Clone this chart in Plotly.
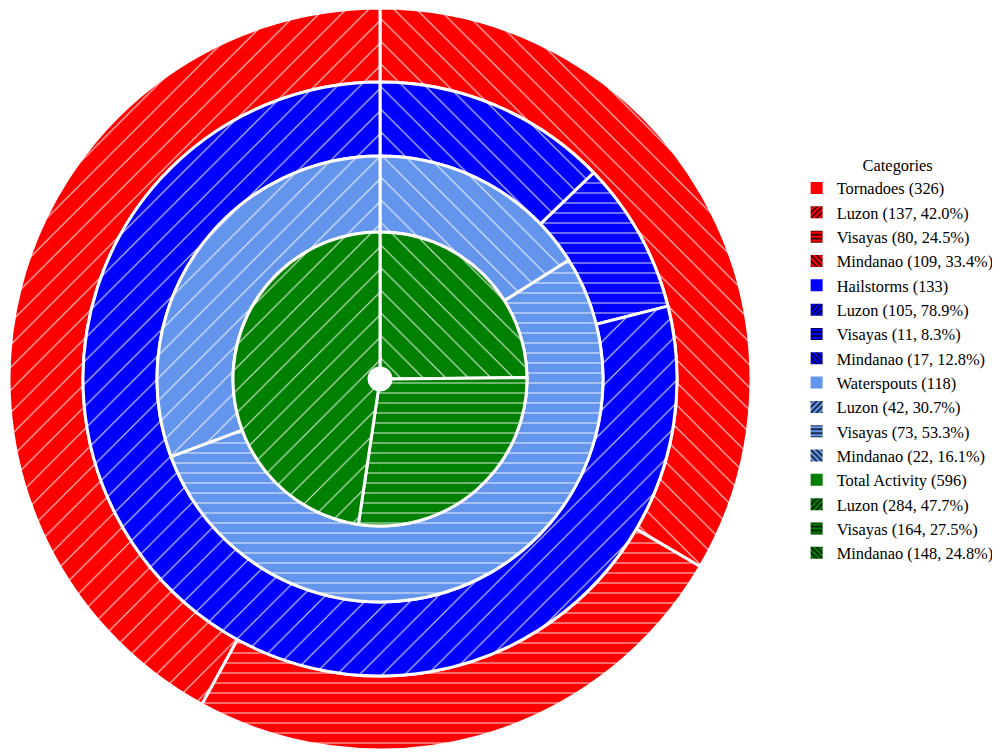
import plotly.graph_objects as go

categories = ["Tornadoes", "Hailstorms", "Waterspouts", "Total Activity"]
category_totals = [326, 133, 118, 596]
regions = ["Luzon", "Visayas", "Mindanao"]
tornadoes = [137, 80, 109]
hailstorms = [105, 11, 17]
waterspouts = [42, 73, 22]
total_activity = [284, 164, 148]
colors = ["#FF0000", "#0000FF", "#6495ED", "#008000"]
region_patterns = ["/", "-", "\\"]
pattern_sizes = [16, 10, 16]
pattern_solidity = [0.07, 0.1, 0.07]

series = [tornadoes, hailstorms, waterspouts, total_activity]

# figure sits 8px inside the page (default body margin)
W, H = 992, 745
cx, cy = 372, 371  # pixel centre in figure coords (from top)
radii = [371, 297, 223, 147]
holes = [297 / 371, 223 / 297, 147 / 223, 11 / 147]

fig = go.Figure()

for i, (cat, vals, col) in enumerate(zip(categories, series, colors)):
    R = radii[i]
    yb = H - cy
    # slices run counter-clockwise from 12 o'clock: Luzon, Visayas, Mindanao
    # (drawn clockwise in reversed order, which gives the same layout)
    fig.add_trace(go.Pie(
        values=vals[::-1],
        labels=[f"{cat} {r}" for r in regions[::-1]],
        sort=False,
        direction="clockwise",
        rotation=0,
        hole=holes[i],
        domain=dict(x=[(cx - R) / W, (cx + R) / W],
                    y=[max(0, (yb - R) / H), min(1, (yb + R) / H)]),
        marker=dict(colors=[col] * 3,
                    line=dict(color="white", width=3),
                    pattern=dict(shape=region_patterns[::-1], fgcolor="white",
                                 bgcolor=col, size=pattern_sizes[::-1],
                                 solidity=pattern_solidity[::-1],
                                 fgopacity=0.85, fillmode="replace")),
        textinfo="none",
        hoverinfo="label+value+percent",
        showlegend=False,
    ))

# Legend entries
for i, (cat, vals, col) in enumerate(zip(categories, series, colors)):
    tot = sum(vals)
    fig.add_trace(go.Bar(x=[None], y=[None], name=f"{cat} ({category_totals[i]})",
                         marker=dict(color=col, line=dict(width=0)),
                         showlegend=True, hoverinfo="skip"))
    for r, v, p in zip(regions, vals, region_patterns):
        fig.add_trace(go.Bar(x=[None], y=[None],
                             name=f"{r} ({v}, {100 * v / tot:.1f}%)",
                             marker=dict(color=col, line=dict(width=0),
                                         pattern=dict(shape=p, fgcolor="black",
                                                      bgcolor=col, size=5,
                                                      solidity=0.35,
                                                      fillmode="replace")),
                             showlegend=True, hoverinfo="skip"))

fig.update_layout(
    width=W, height=H,
    margin=dict(l=0, r=0, t=0, b=0),
    paper_bgcolor="white", plot_bgcolor="white",
    xaxis=dict(visible=False, domain=[0.9, 0.95]),
    yaxis=dict(visible=False),
    font=dict(family="Liberation Serif", size=16.4, color="black"),
    legend=dict(
        title=dict(text="Categories", side="top center",
                   font=dict(family="Liberation Serif", size=16.4)),
        x=0.795, y=0.81, xanchor="left", yanchor="top",
        font=dict(family="Liberation Serif", size=16.4),
        tracegroupgap=0, itemclick=False,
        bgcolor="rgba(0,0,0,0)",
    ),
)

fig.write_html("out.html")
